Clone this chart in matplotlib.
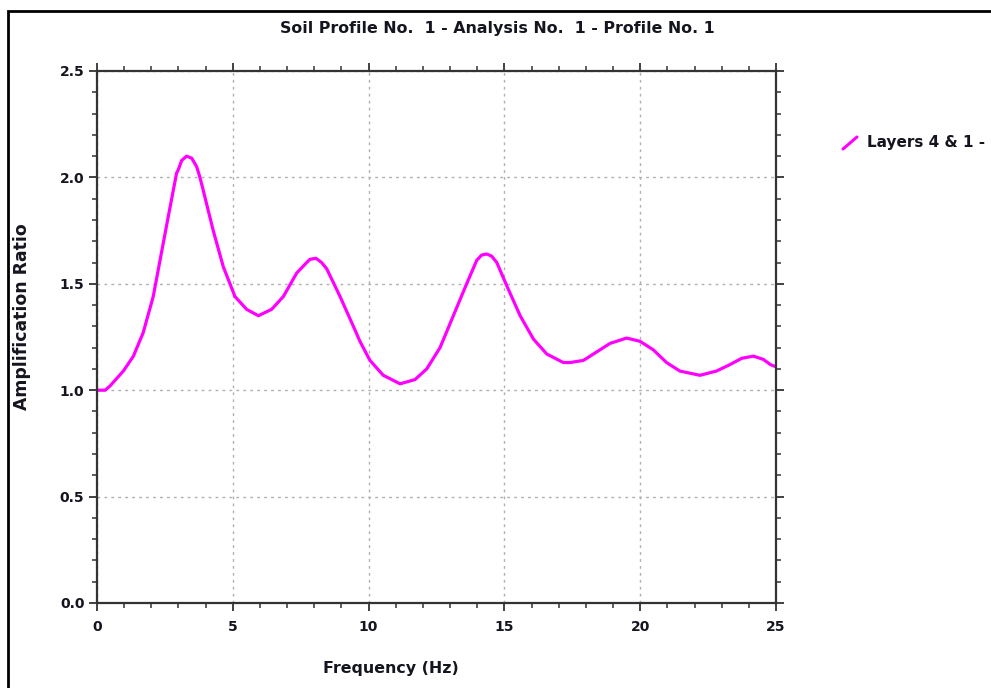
import matplotlib
matplotlib.use("Agg")
import matplotlib.pyplot as plt
from matplotlib.ticker import MultipleLocator, FormatStrFormatter
from matplotlib.lines import Line2D
from matplotlib.patches import Rectangle

freq = [0.0, 0.30, 0.48, 0.97, 1.34, 1.70, 2.07, 2.32, 2.63, 2.93, 2.99, 3.12, 3.30, 3.49, 3.67,
        3.79, 3.91, 4.28, 4.65, 5.08, 5.51, 5.94, 6.43, 6.86, 7.35, 7.72, 7.84, 8.06, 8.27,
        8.46, 8.95, 9.44, 9.68, 10.05, 10.54, 11.16, 11.71, 12.14, 12.63, 13.12, 13.61,
        13.98, 14.16, 14.35, 14.53, 14.72, 15.09, 15.58, 16.07, 16.56, 17.17, 17.42, 17.91,
        18.40, 18.89, 19.50, 19.99, 20.48, 20.97, 21.46, 22.20, 22.81, 23.30, 23.74, 24.17,
        24.53, 24.80, 25.0]
amp = [1.00, 1.00, 1.02, 1.09, 1.16, 1.27, 1.44, 1.61, 1.82, 2.02, 2.035, 2.08, 2.10, 2.09, 2.05,
       2.00, 1.94, 1.75, 1.58, 1.44, 1.38, 1.35, 1.38, 1.44, 1.55, 1.60, 1.615, 1.62, 1.60,
       1.57, 1.44, 1.30, 1.23, 1.14, 1.07, 1.03, 1.05, 1.10, 1.20, 1.35, 1.50,
       1.61, 1.635, 1.64, 1.63, 1.60, 1.49, 1.35, 1.24, 1.17, 1.13, 1.13, 1.14,
       1.18, 1.22, 1.245, 1.23, 1.19, 1.13, 1.09, 1.07, 1.09, 1.12, 1.15, 1.16,
       1.145, 1.12, 1.11]

title = "Soil Profile No.  1 - Analysis No.  1 - Profile No. 1"
xlabel = "Frequency (Hz)"
ylabel = "Amplification Ratio"
series_label = "Layers 4 & 1 -"

plt.rcParams['font.family'] = ['DejaVu Sans']
plt.rcParams['font.weight'] = 'bold'

fig = plt.figure(figsize=(9.91, 6.88), dpi=100)
ax = fig.add_axes([97/991, 85/688, (776-97)/991, (603-71)/688])

line_color = '#FF00FF'
ax.plot(freq, amp, color=line_color, lw=2.3, solid_joinstyle='round', solid_capstyle='round')

ax.set_xlim(0, 25)
ax.set_ylim(0, 2.5)
ax.xaxis.set_major_locator(MultipleLocator(5))
ax.xaxis.set_minor_locator(MultipleLocator(1))
ax.yaxis.set_major_locator(MultipleLocator(0.5))
ax.yaxis.set_minor_locator(MultipleLocator(0.1))
ax.yaxis.set_major_formatter(FormatStrFormatter('%.1f'))

spine_c = '#333333'
for s in ax.spines.values():
    s.set_linewidth(1.6)
    s.set_color(spine_c)

txt_c = '#151520'
ax.tick_params(which='both', direction='out', top=True, right=True, color=spine_c,
               labelsize=10, labelcolor=txt_c)
ax.tick_params(axis='x', which='major', length=6, width=1.3, pad=6)
ax.tick_params(axis='y', which='major', length=6, width=1.3, pad=3)
ax.tick_params(which='minor', length=3.5, width=1.1)
for lab in ax.get_xticklabels() + ax.get_yticklabels():
    lab.set_fontweight('bold')

ax.grid(True, which='major', color='#b0b0b0', linestyle=(0, (2, 3)), linewidth=1.0)
ax.set_axisbelow(True)

fig.text(497/991, 1 - 28/688, title, ha='center', va='center', fontsize=11.4,
         fontweight='bold', color=txt_c)
fig.text(391/991, 1 - 668/688, xlabel, ha='center', va='center', fontsize=11.4,
         fontweight='bold', color=txt_c)
fig.text(22/991, 1 - 317/688, ylabel, ha='center', va='center', fontsize=12.4,
         fontweight='bold', rotation=90, color=txt_c)

# legend entry outside the axes
fig.add_artist(Line2D([843/991, 857/991], [1 - 149/688, 1 - 137/688],
                      transform=fig.transFigure, color=line_color, lw=2.2,
                      solid_capstyle='round'))
fig.text(867/991, 1 - 143/688, series_label, ha='left', va='center', fontsize=11,
         fontweight='bold', color=txt_c)

# outer frame
fig.add_artist(Rectangle((8/991, -0.05), 1.2, 1 - 11/688 + 0.05, transform=fig.transFigure,
                         fill=False, edgecolor='black', lw=2.0))

fig.savefig('out.png', dpi=100)
